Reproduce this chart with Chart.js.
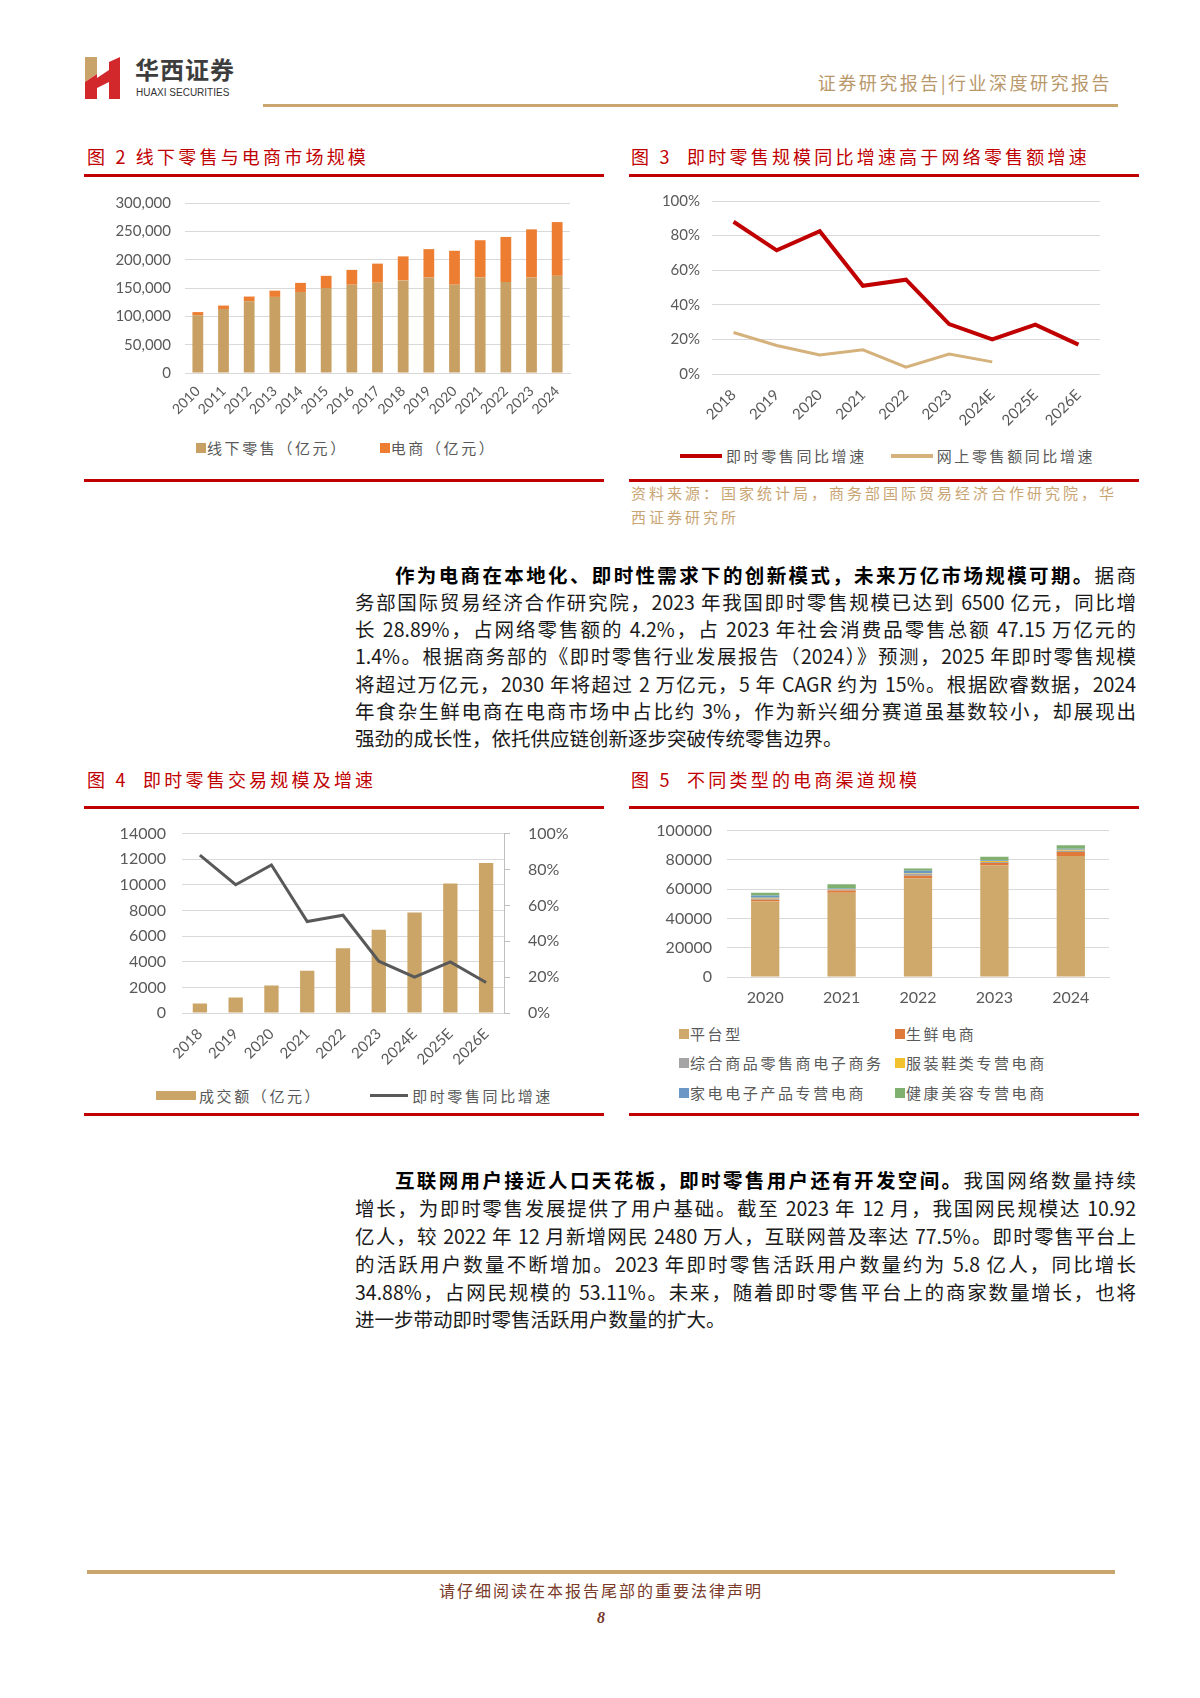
<!DOCTYPE html>
<html lang="zh-CN">
<head>
<meta charset="UTF-8">
<title>即时零售 - 华西证券</title>
<script src="https://cdn.jsdelivr.net/npm/chart.js"></script>
<style>
  * { margin: 0; padding: 0; box-sizing: border-box; }
  html, body { width: 1200px; height: 1698px; background: #fff; font-family: "Noto Sans CJK SC", sans-serif; }
  .page { position: relative; width: 1200px; height: 1698px; overflow: hidden; }

  .rule { position: absolute; height: 3px; }
  .gold { background: #c9a66d; }
  .red { background: #c00000; }

  .fig-title { position: absolute; color: #c00000; font-size: 18px; letter-spacing: 3.2px; line-height: 20px; white-space: nowrap; }
  .legend { position: absolute; font-size: 15px; color: #595959; letter-spacing: 2.6px; line-height: 18px; white-space: nowrap; }
  .legend span { display: inline-block; vertical-align: middle; }
  .sq { width: 10px; height: 10px; margin-right: 1px; }
  canvas { position: absolute; }

  .source { position: absolute; left: 631px; top: 481px; width: 500px; font-size: 15px; line-height: 24px; letter-spacing: 3px; color: #c9a574; }

  .para div { position: absolute; left: 355px; width: 781px; font-size: 19.5px; line-height: 27px; color: #1a1a1a;
              text-align: justify; text-align-last: justify; white-space: nowrap; }
  .para div.last { text-align-last: left; }
  .para b { font-weight: 700; color: #000; }

  .footer { position: absolute; left: 87px; width: 1028px; text-align: center; color: #7a3a2a; }
</style>
</head>
<body>
<div class="page">

  <!-- header -->
  <svg style="position:absolute;left:85px;top:57px" width="36" height="42" viewBox="0 0 36 42">
    <polygon points="0,0 12,0 12,17 0,25" fill="#c9a46a"/>
    <polygon points="0,25 12,17 12,42 0,42" fill="#d2282c"/>
    <polygon points="12,21 24,13 24,25 12,31" fill="#d2282c"/>
    <polygon points="24,5 35,0 35,42 24,42" fill="#d2282c"/>
  </svg>
  <div style="position:absolute;left:135px;top:54px;font-size:24px;font-weight:700;color:#3d3d3d;letter-spacing:1px;line-height:30px">华西证券</div>
  <div style="position:absolute;left:136px;top:87px;font-size:10px;color:#333;font-family:'Liberation Sans',sans-serif;line-height:12px">HUAXI SECURITIES</div>
  <div style="position:absolute;right:88px;top:70px;font-size:18px;color:#b8986a;letter-spacing:2.5px;line-height:24px">证券研究报告|行业深度研究报告</div>
  <div class="rule gold" style="left:263px;top:104px;width:855px"></div>

  <!-- figure 2 / 3 -->
  <div class="fig-title" style="left:87px;top:146px">图 2 线下零售与电商市场规模</div>
  <div class="fig-title" style="left:631px;top:146px">图 3&nbsp; 即时零售规模同比增速高于网络零售额增速</div>
  <div class="rule red" style="left:84px;top:174px;width:520px"></div>
  <div class="rule red" style="left:629px;top:174px;width:510px"></div>

  <canvas id="c2" width="523" height="255" style="left:84px;top:180px"></canvas>
  <div class="legend" style="left:196px;top:437px">
    <span class="sq" style="background:#c9a063"></span><span>线下零售（亿元）</span>
    <span style="width:20px"></span>
    <span class="sq" style="background:#ed7d31"></span><span>电商（亿元）</span>
  </div>

  <canvas id="c3" width="513" height="260" style="left:629px;top:180px"></canvas>
  <div class="legend" style="left:680px;top:445px">
    <span style="width:42px;height:4px;background:#c00000;margin-right:4px"></span><span>即时零售同比增速</span>
    <span style="width:12px"></span>
    <span style="width:42px;height:4px;background:#d5b17c;margin-right:4px"></span><span>网上零售额同比增速</span>
  </div>

  <div class="rule red" style="left:84px;top:479px;width:520px"></div>
  <div class="rule red" style="left:629px;top:479px;width:510px"></div>
  <div class="source">资料来源：国家统计局，商务部国际贸易经济合作研究院，华<br>西证券研究所</div>

  <!-- paragraph 1 -->
  <div class="para">
    <div style="top:560.5px;padding-left:40px"><b>作为电商在本地化、即时性需求下的创新模式，未来万亿市场规模可期。</b>据商</div>
    <div style="top:587.8px">务部国际贸易经济合作研究院，2023 年我国即时零售规模已达到 6500 亿元，同比增</div>
    <div style="top:615.1px">长 28.89%，占网络零售额的 4.2%，占 2023 年社会消费品零售总额 47.15 万亿元的</div>
    <div style="top:642.4px">1.4%。根据商务部的《即时零售行业发展报告（2024）》预测，2025 年即时零售规模</div>
    <div style="top:669.7px">将超过万亿元，2030 年将超过 2 万亿元，5 年 CAGR 约为 15%。根据欧睿数据，2024</div>
    <div style="top:697px">年食杂生鲜电商在电商市场中占比约 3%，作为新兴细分赛道虽基数较小，却展现出</div>
    <div class="last" style="top:724.3px">强劲的成长性，依托供应链创新逐步突破传统零售边界。</div>
  </div>

  <!-- figure 4 / 5 -->
  <div class="fig-title" style="left:87px;top:769px">图 4&nbsp; 即时零售交易规模及增速</div>
  <div class="fig-title" style="left:631px;top:769px">图 5&nbsp; 不同类型的电商渠道规模</div>
  <div class="rule red" style="left:84px;top:806px;width:520px"></div>
  <div class="rule red" style="left:629px;top:806px;width:510px"></div>

  <canvas id="c4" width="523" height="265" style="left:84px;top:806px"></canvas>
  <div class="legend" style="left:156px;top:1085px">
    <span style="width:40px;height:9px;background:#cba567;margin-right:3px"></span><span>成交额（亿元）</span>
    <span style="width:36px"></span>
    <span style="width:38px;height:3px;background:#595959;margin-right:4px"></span><span>即时零售同比增速</span>
  </div>

  <canvas id="c5" width="513" height="208" style="left:629px;top:806px"></canvas>
  <div class="legend" style="left:679px;top:1023px"><span class="sq" style="background:#cfa86b"></span><span>平台型</span></div>
  <div class="legend" style="left:895px;top:1023px"><span class="sq" style="background:#e07a3a"></span><span>生鲜电商</span></div>
  <div class="legend" style="left:679px;top:1052px"><span class="sq" style="background:#a5a5a5"></span><span>综合商品零售商电子商务</span></div>
  <div class="legend" style="left:895px;top:1052px"><span class="sq" style="background:#f2c12e"></span><span>服装鞋类专营电商</span></div>
  <div class="legend" style="left:679px;top:1082px"><span class="sq" style="background:#6a97c6"></span><span>家电电子产品专营电商</span></div>
  <div class="legend" style="left:895px;top:1082px"><span class="sq" style="background:#80b070"></span><span>健康美容专营电商</span></div>

  <div class="rule red" style="left:84px;top:1112.5px;width:520px"></div>
  <div class="rule red" style="left:629px;top:1112.5px;width:510px"></div>

  <!-- paragraph 2 -->
  <div class="para">
    <div style="top:1166.4px;padding-left:40px"><b>互联网用户接近人口天花板，即时零售用户还有开发空间。</b>我国网络数量持续</div>
    <div style="top:1194.2px">增长，为即时零售发展提供了用户基础。截至 2023 年 12 月，我国网民规模达 10.92</div>
    <div style="top:1222px">亿人，较 2022 年 12 月新增网民 2480 万人，互联网普及率达 77.5%。即时零售平台上</div>
    <div style="top:1249.8px">的活跃用户数量不断增加。2023 年即时零售活跃用户数量约为 5.8 亿人，同比增长</div>
    <div style="top:1277.6px">34.88%，占网民规模的 53.11%。未来，随着即时零售平台上的商家数量增长，也将</div>
    <div class="last" style="top:1305.4px">进一步带动即时零售活跃用户数量的扩大。</div>
  </div>

  <!-- footer -->
  <div class="rule gold" style="left:87px;top:1569.5px;width:1028px;height:4px"></div>
  <div class="footer" style="top:1579.5px;font-size:16px;letter-spacing:2px;line-height:20px">请仔细阅读在本报告尾部的重要法律声明</div>
  <div class="footer" style="top:1608px;font-size:16px;font-weight:700;font-style:italic;line-height:20px;font-family:'Liberation Serif',serif">8</div>
</div>

<script>
  // 图2 线下零售与电商市场规模（亿元）
  const fig2Years = ["2010","2011","2012","2013","2014","2015","2016","2017","2018","2019","2020","2021","2022","2023","2024"];
  const fig2Offline = [102000,113000,126700,134300,143000,150000,155800,159300,163400,168600,155800,168600,160500,168600,171500];
  const fig2Ecom = [5500,6000,8200,11000,16000,21500,26200,33700,42400,50000,59900,65700,79600,84900,94800];
  const fig2Ticks = [0,50000,100000,150000,200000,250000,300000];

  // 图3 即时零售 vs 网上零售额 同比增速（%）
  const growthYears = ["2018","2019","2020","2021","2022","2023","2024E","2025E","2026E"];
  const instantGrowth = [88,71.5,82.5,51,54.5,28.89,20,28.5,17];
  const onlineGrowth = [24,16.5,11,14,4,11.5,7,null,null];
  const pctTicks = [0,20,40,60,80,100];

  // 图4 即时零售成交额（亿元）
  const gmv = [750,1200,2150,3300,5050,6500,7850,10100,11700];
  const gmvTicks = [0,2000,4000,6000,8000,10000,12000,14000];

  // 图5 不同类型的电商渠道规模
  const fig5Years = ["2020","2021","2022","2023","2024"];
  const platform = [51500,57600,67400,76100,82600];
  const freshEcom = [1200,1500,1700,1800,2800];
  const generalEcom = [1000,700,1400,700,900];
  const apparelEcom = [400,300,300,600,700];
  const applianceEcom = [1600,400,1700,500,600];
  const beautyEcom = [1800,2800,1600,2500,2400];
  const fig5Ticks = [0,20000,40000,60000,80000,100000];

  Chart.defaults.font.family = 'Lato, "Noto Sans CJK SC", sans-serif';
  Chart.defaults.color = '#595959';
  Chart.defaults.animation = false;
  Chart.defaults.responsive = false;
  Chart.defaults.plugins.legend.display = false;
  Chart.defaults.plugins.tooltip.enabled = false;

  const GRID = '#d9d9d9';
  const plain = v => String(v);

  new Chart(document.getElementById('c2'), {
    type: 'bar',
    data: {
      labels: fig2Years,
      datasets: [
        { label: '线下零售（亿元）', data: fig2Offline, backgroundColor: '#c9a063', barPercentage: 0.42, categoryPercentage: 1 },
        { label: '电商（亿元）', data: fig2Ecom, backgroundColor: '#ed7d31', barPercentage: 0.42, categoryPercentage: 1 }
      ]
    },
    options: {
      layout: { padding: { top: 20, right: 37 } },
      scales: {
        x: { stacked: true, grid: { display: false }, border: { color: GRID },
             ticks: { minRotation: 45, maxRotation: 45, autoSkip: false, font: { size: 14 }, padding: 2 },
             afterFit: s => { s.height = 62; } },
        y: { stacked: true, min: fig2Ticks[0], max: fig2Ticks[fig2Ticks.length - 1],
             ticks: { stepSize: fig2Ticks[1] - fig2Ticks[0], font: { size: 15 }, padding: 14, callback: v => v.toLocaleString('en-US') },
             grid: { color: GRID, drawTicks: false }, border: { display: false },
             afterFit: s => { s.width = 101; } }
      }
    }
  });

  new Chart(document.getElementById('c3'), {
    type: 'line',
    data: {
      labels: growthYears,
      datasets: [
        { label: '即时零售同比增速', data: instantGrowth, borderColor: '#c00000', borderWidth: 4, pointRadius: 0 },
        { label: '网上零售额同比增速', data: onlineGrowth, borderColor: '#d5b17c', borderWidth: 3, pointRadius: 0 }
      ]
    },
    options: {
      layout: { padding: { top: 20, right: 42 } },
      scales: {
        x: { offset: true, grid: { display: false }, border: { display: false },
             ticks: { minRotation: 45, maxRotation: 45, autoSkip: false, font: { size: 15 }, padding: 4 },
             afterFit: s => { s.height = 66; } },
        y: { min: pctTicks[0], max: pctTicks[pctTicks.length - 1],
             ticks: { stepSize: pctTicks[1] - pctTicks[0], font: { size: 15 }, padding: 12, callback: v => v + '%' },
             grid: { color: GRID, drawTicks: false }, border: { display: false },
             afterFit: s => { s.width = 83; } }
      }
    }
  });

  new Chart(document.getElementById('c4'), {
    type: 'bar',
    data: {
      labels: growthYears,
      datasets: [
        { type: 'line', label: '即时零售同比增速', data: instantGrowth, yAxisID: 'y1', order: 0,
          borderColor: '#595959', borderWidth: 3, pointRadius: 0 },
        { label: '成交额（亿元）', data: gmv, yAxisID: 'y', order: 1,
          backgroundColor: '#cba567', barPercentage: 0.4, categoryPercentage: 1 }
      ]
    },
    options: {
      layout: { padding: { top: 17 } },
      scales: {
        x: { grid: { display: false }, border: { display: false },
             ticks: { minRotation: 45, maxRotation: 45, autoSkip: false, font: { size: 15 }, padding: 4 },
             afterFit: s => { s.height = 58; } },
        y: { position: 'left', min: gmvTicks[0], max: gmvTicks[gmvTicks.length - 1],
             ticks: { stepSize: gmvTicks[1] - gmvTicks[0], font: { size: 16 }, padding: 16, callback: plain },
             grid: { color: GRID, drawTicks: false }, border: { display: false },
             afterFit: s => { s.width = 98; } },
        y1: { position: 'right', min: pctTicks[0], max: pctTicks[pctTicks.length - 1],
              ticks: { stepSize: pctTicks[1] - pctTicks[0], font: { size: 16 }, padding: 18, callback: v => v + '%' },
              grid: { drawOnChartArea: false, color: '#bfbfbf', tickLength: 6 }, border: { color: '#bfbfbf' },
              afterFit: s => { s.width = 103; } }
      }
    }
  });

  const fig5Sets = [
    ['平台型', platform, '#cfa86b'],
    ['生鲜电商', freshEcom, '#e07a3a'],
    ['综合商品零售商电子商务', generalEcom, '#a5a5a5'],
    ['服装鞋类专营电商', apparelEcom, '#f2c12e'],
    ['家电电子产品专营电商', applianceEcom, '#6a97c6'],
    ['健康美容专营电商', beautyEcom, '#80b070']
  ];
  new Chart(document.getElementById('c5'), {
    type: 'bar',
    data: {
      labels: fig5Years,
      datasets: fig5Sets.map(([label, data, color]) => ({
        label, data, backgroundColor: color, barPercentage: 0.37, categoryPercentage: 1
      }))
    },
    options: {
      layout: { padding: { top: 19, right: 33 } },
      scales: {
        x: { stacked: true, grid: { display: false }, border: { color: GRID },
             ticks: { font: { size: 16 }, padding: 3 },
             afterFit: s => { s.height = 37; } },
        y: { stacked: true, min: fig5Ticks[0], max: fig5Ticks[fig5Ticks.length - 1],
             ticks: { stepSize: fig5Ticks[1] - fig5Ticks[0], font: { size: 16 }, padding: 15, callback: plain },
             grid: { color: GRID, drawTicks: false }, border: { display: false },
             afterFit: s => { s.width = 98; } }
      }
    }
  });
</script>
</body>
</html>
